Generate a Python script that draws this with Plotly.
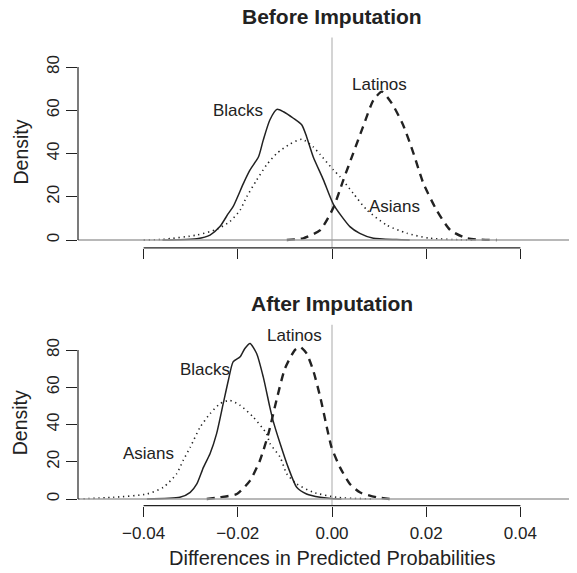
import plotly.graph_objects as go

# ---------------- data ----------------
TICKS_X = [-0.04, -0.02, 0.00, 0.02, 0.04]
TICK_TEXT_X = ["\u22120.04", "\u22120.02", "0.00", "0.02", "0.04"]
TICKS_Y = [0, 20, 40, 60, 80]

# Before imputation
before_blacks_x = [-0.0360, -0.0323, -0.0287, -0.0259, -0.0238, -0.0220, -0.0210, -0.0188, -0.0174,
                   -0.0156, -0.0146, -0.0132, -0.0117, -0.0103, -0.0082, -0.0064, -0.0054, -0.0040,
                   -0.0018, 0.0003, 0.0038, 0.0059, 0.0088, 0.0137, 0.0165]
before_blacks_y = [0, 0.1, 0.6, 2.3, 6.2, 12.3, 15.4, 26.2, 32.4,
                   38.5, 46.2, 55.5, 60.4, 59.3, 56.3, 53.2, 47.8, 38.5,
                   27.7, 16.5, 6.2, 3.1, 0.8, 0.2, 0]

before_asians_x = [-0.0400, -0.0359, -0.0287, -0.0245, -0.0217, -0.0195, -0.0181, -0.0160, -0.0139,
                   -0.0117, -0.0089, -0.0064, -0.0040, -0.0025, 0.0003, 0.0017, 0.0045, 0.0074,
                   0.0116, 0.0159, 0.0208, 0.0272, 0.0300]
before_asians_y = [0, 0.3, 2.3, 4.9, 8.5, 13.9, 20.0, 27.7, 34.7,
                   40.1, 44.4, 46.6, 43.1, 39.5, 32.4, 29.3, 21.6, 13.9,
                   6.9, 3.1, 0.8, 0.1, 0]

before_latinos_x = [-0.0096, -0.0061, -0.0025, 0.0003, 0.0024, 0.0045, 0.0066, 0.0088, 0.0106,
                    0.0127, 0.0151, 0.0173, 0.0194, 0.0222, 0.0251, 0.0286, 0.0350]
before_latinos_y = [0, 0.8, 4.6, 15.0, 27.7, 40.1, 52.4, 64.7, 68.6,
                    63.2, 53.2, 40.1, 26.2, 13.9, 4.6, 0.8, 0]

# After imputation
after_blacks_x = [-0.0393, -0.0323, -0.0301, -0.0287, -0.0273, -0.0259, -0.0245, -0.0231, -0.0220,
                  -0.0210, -0.0195, -0.0185, -0.0174, -0.0160, -0.0146, -0.0132, -0.0125, -0.0110,
                  -0.0093, -0.0075, -0.0054, -0.0025, 0.0003, 0.0020]
after_blacks_y = [0, 0.9, 3.6, 8.1, 17.0, 24.3, 35.1, 51.2, 63.8,
                  73.7, 76.4, 80.9, 83.6, 78.2, 65.6, 49.4, 42.0, 29.7,
                  17.0, 6.3, 2.7, 0.9, 0.1, 0]

after_asians_x = [-0.0539, -0.0464, -0.0393, -0.0358, -0.0330, -0.0316, -0.0301, -0.0280, -0.0259,
                  -0.0238, -0.0217, -0.0195, -0.0167, -0.0139, -0.0132, -0.0110, -0.0096, -0.0075,
                  -0.0040, 0.0010, 0.0059, 0.0090]
after_asians_y = [0, 0.9, 2.7, 6.3, 13.5, 20.7, 27.8, 38.6, 45.8,
                  51.2, 53.0, 50.3, 44.0, 35.1, 30.0, 22.4, 13.5, 8.1,
                  3.6, 0.9, 0.2, 0]

after_latinos_x = [-0.0266, -0.0238, -0.0202, -0.0174, -0.0153, -0.0135, -0.0117, -0.0100, -0.0079,
                   -0.0068, -0.0054, -0.0040, -0.0025, -0.0011, -0.0001, 0.0017, 0.0038, 0.0059,
                   0.0095, 0.0123]
after_latinos_y = [0, 0.9, 2.7, 9.9, 20.7, 35.1, 54.0, 70.0, 80.0,
                   81.8, 78.2, 69.2, 54.8, 38.6, 27.8, 17.0, 8.1, 3.6,
                   0.9, 0]

# group labels: (text, x, y)
labels_before = [("Blacks", -0.0200, 60.1), ("Latinos", 0.0100, 72.1), ("Asians", 0.0132, 15.7)]
labels_after = [("Blacks", -0.0270, 69.6), ("Latinos", -0.0079, 88.1), ("Asians", -0.0390, 24.6)]

# ---------------- style ----------------
INK = "#222222"
FONT = "Liberation Sans, Arial, Helvetica, sans-serif"
XRANGE = [-0.05393, 0.05202]
YRANGE = [-3.6, 93.6]
OFF = 8                      # page body margin offset
W, H = 577 - OFF, 573 - OFF
ML = 78 - OFF

def py(p):
    """screen pixel row -> paper y"""
    return 1 - (p - OFF) / H

def px(p):
    """screen pixel column -> paper x"""
    return (p - OFF - ML) / (W - ML)

fig = go.Figure()

styles = {
    "Blacks": dict(color=INK, width=1.5, dash="solid"),
    "Asians": dict(color=INK, width=1.6, dash="1.3px,3.7px"),
    "Latinos": dict(color=INK, width=2.4, dash="8px,6px"),
}

def add_curve(x, y, name, xa, ya):
    fig.add_trace(go.Scatter(x=x, y=y, mode="lines", name=name, showlegend=False,
                             line=dict(shape="spline", smoothing=0.6, **styles[name]),
                             xaxis=xa, yaxis=ya, hoverinfo="skip"))

add_curve(before_blacks_x, before_blacks_y, "Blacks", "x", "y")
add_curve(before_asians_x, before_asians_y, "Asians", "x", "y")
add_curve(before_latinos_x, before_latinos_y, "Latinos", "x", "y")
add_curve(after_blacks_x, after_blacks_y, "Blacks", "x2", "y2")
add_curve(after_asians_x, after_asians_y, "Asians", "x2", "y2")
add_curve(after_latinos_x, after_latinos_y, "Latinos", "x2", "y2")

dom_top = [py(247.8), py(37.6)]
dom_bot = [py(505.7), py(324.8)]

xcommon = dict(range=XRANGE, showgrid=False, zeroline=False, showline=False,
               tickvals=TICKS_X, ticktext=TICK_TEXT_X, ticks="outside", ticklen=10,
               tickwidth=1, tickcolor=INK, automargin=False,
               tickfont=dict(family=FONT, size=17, color=INK))
ycommon = dict(range=YRANGE, showgrid=False, zeroline=False, showline=False,
               tickvals=TICKS_Y, ticks="outside", ticklen=11, tickwidth=1, tickcolor=INK,
               tickangle=-90, automargin=False,
               tickfont=dict(family=FONT, size=17, color=INK))

fig.update_layout(
    width=W, height=H,
    margin=dict(l=ML, r=0, t=0, b=0, pad=0),
    paper_bgcolor="white", plot_bgcolor="white",
    xaxis=dict(anchor="y", showticklabels=False, **xcommon),
    xaxis2=dict(anchor="y2", showticklabels=True, ticklabelstandoff=2, **xcommon),
    yaxis=dict(anchor="x", domain=dom_top, ticklabelstandoff=0, **ycommon),
    yaxis2=dict(anchor="x2", domain=dom_bot, ticklabelstandoff=0, **ycommon),
)

shapes = []
for xr, yr in (("x", "y"), ("x2", "y2")):
    # reference lines (abline v=0, h=0)
    shapes.append(dict(type="line", xref=xr, yref=yr + " domain", x0=0, x1=0, y0=0, y1=1,
                       line=dict(color="#b8b8b8", width=1.2), layer="below"))
    shapes.append(dict(type="line", xref=xr + " domain", yref=yr, x0=0, x1=1, y0=0, y1=0,
                       line=dict(color="#a0a0a0", width=1.6), layer="above"))
    # R-style axis lines spanning first to last tick
    shapes.append(dict(type="line", xref=xr, yref=yr + " domain", x0=TICKS_X[0], x1=TICKS_X[-1],
                       y0=0, y1=0, line=dict(color=INK, width=1.2), layer="above"))
    shapes.append(dict(type="line", xref=xr + " domain", yref=yr, x0=0, x1=0,
                       y0=TICKS_Y[0], y1=TICKS_Y[-1], line=dict(color=INK, width=1.2), layer="above"))
fig.update_layout(shapes=shapes)

ann = []
for text, x, y in labels_before:
    ann.append(dict(text=text, x=x, y=y, xref="x", yref="y", showarrow=False,
                    xanchor="center", yanchor="middle", font=dict(family=FONT, size=17, color=INK)))
for text, x, y in labels_after:
    ann.append(dict(text=text, x=x, y=y, xref="x2", yref="y2", showarrow=False,
                    xanchor="center", yanchor="middle", font=dict(family=FONT, size=17, color=INK)))

ann.append(dict(text="<b>Before Imputation</b>", x=px(332), y=py(16.5), xref="paper", yref="paper",
                showarrow=False, xanchor="center", yanchor="middle",
                font=dict(family=FONT, size=21, color=INK)))
ann.append(dict(text="<b>After Imputation</b>", x=px(332), y=py(303.5), xref="paper", yref="paper",
                showarrow=False, xanchor="center", yanchor="middle",
                font=dict(family=FONT, size=21, color=INK)))
for cy in (152.5, 423.3):
    ann.append(dict(text="Density", x=px(20), y=py(cy), xref="paper", yref="paper",
                    showarrow=False, xanchor="center", yanchor="middle", textangle=-90,
                    font=dict(family=FONT, size=19.5, color=INK)))
ann.append(dict(text="Differences in Predicted Probabilities", x=px(332), y=py(558),
                xref="paper", yref="paper", showarrow=False, xanchor="center", yanchor="middle",
                font=dict(family=FONT, size=20, color=INK)))
fig.update_layout(annotations=ann)

fig.write_html("out.html")
